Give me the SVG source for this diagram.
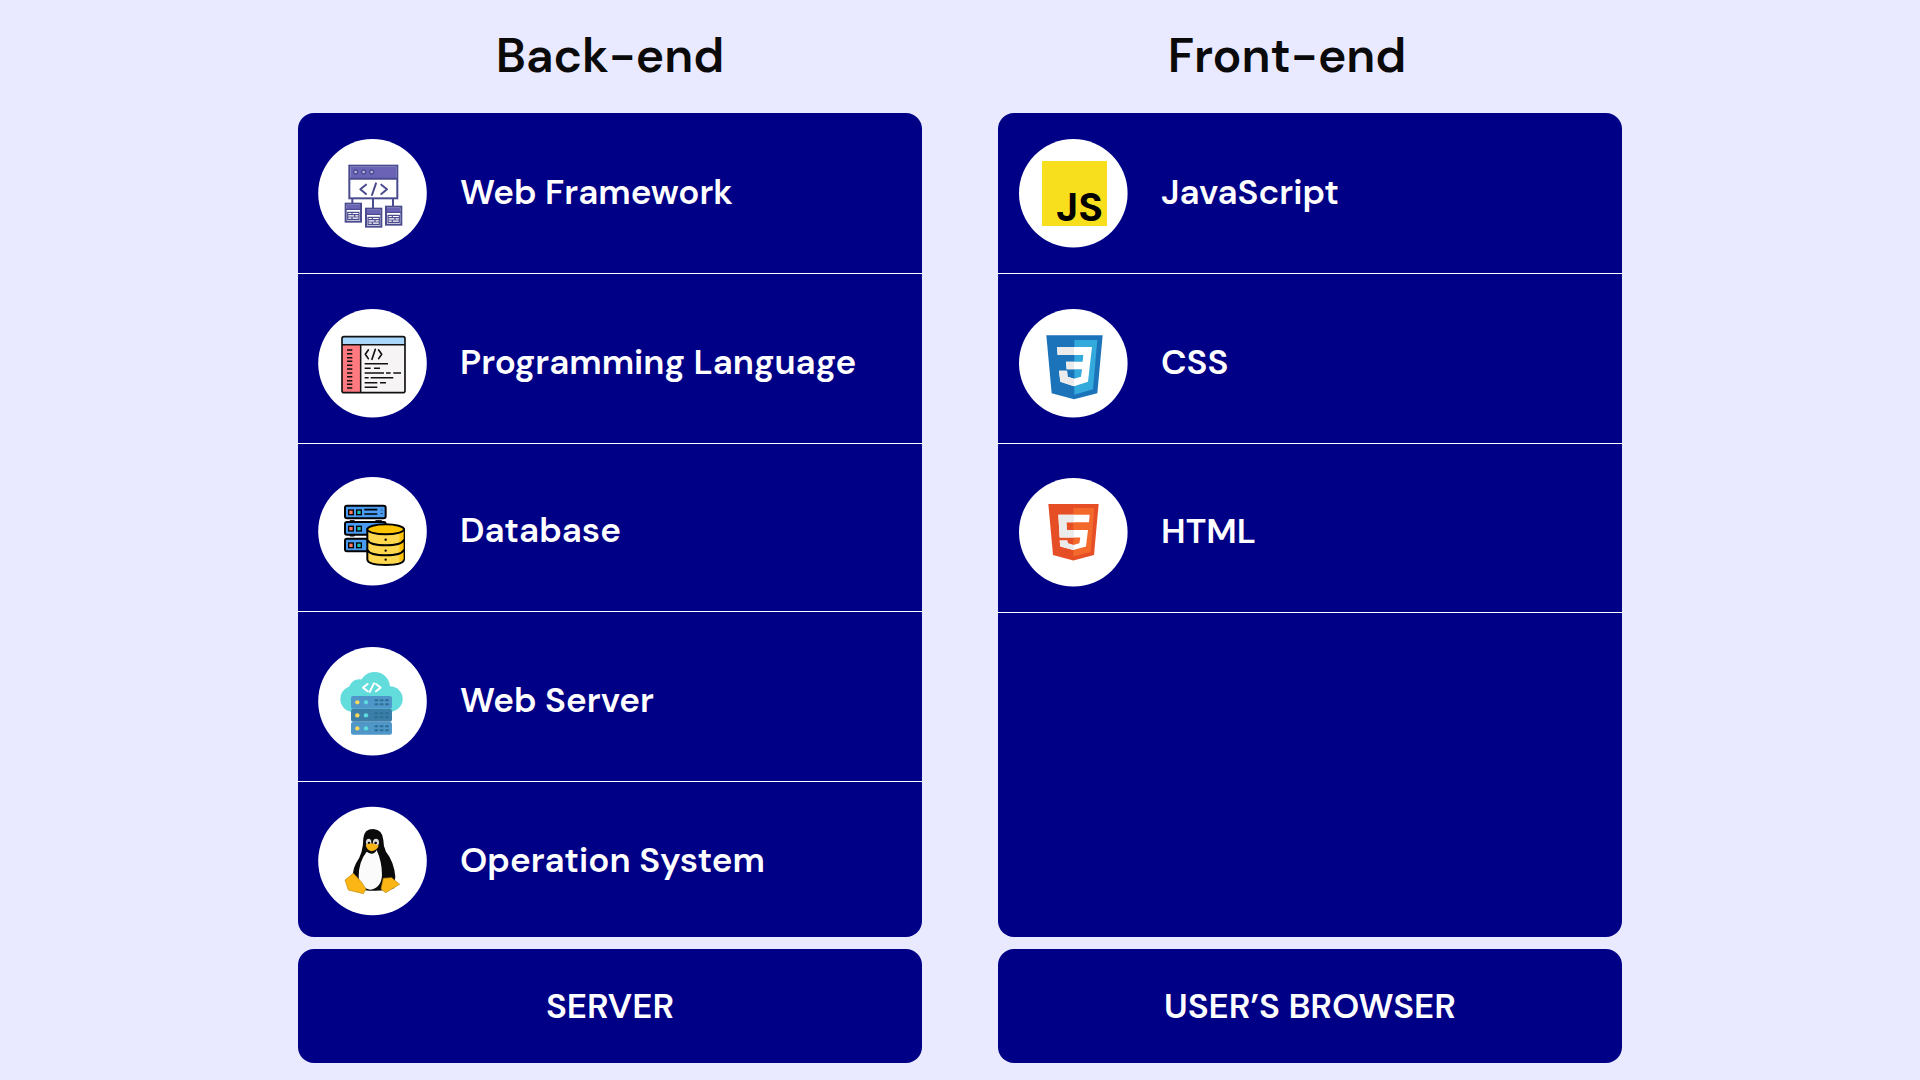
<svg xmlns="http://www.w3.org/2000/svg" width="1920" height="1080" viewBox="0 0 1920 1080">
<style>
.p{fill:#000087}.d{stroke:#fff;stroke-width:1.2}.c{fill:#fff}
text{font-family:"DM Sans","Inter","Noto Sans","Liberation Sans",sans-serif;font-weight:600;fill:#fff;font-size:35px}
.h{fill:#0a0a0a;font-size:48px;text-anchor:middle}.m{text-anchor:middle}
.z{fill:none;stroke-linecap:round;stroke-linejoin:round}
.wf{fill:#fff;stroke:#4b4b8f;stroke-width:6}.wb{fill:#6a63b6}
</style>
<defs>
<clipPath id="lh"><rect x="0" y="0" width="222" height="2000"/></clipPath>
<g id="tbl"><rect class="wf" x="3" y="3" width="46" height="54"/><rect class="wb" x="6" y="6" width="40" height="14"/><path d="M3 20H49M9 29H43V50H9ZM9 36H43M9 43H43M22 29V36M30 36V43M22 43V50" fill="none" stroke="#4b4b8f" stroke-width="3.5"/></g>
<g id="rack"><rect x="135" y="0" width="122" height="38" rx="6" fill="#4a9cf2" stroke="#000" stroke-width="6"/><rect x="146" y="13" width="14" height="14" fill="#ff7a5c" stroke="#000" stroke-width="4"/><rect x="170" y="13" width="14" height="14" fill="#1bc4b4" stroke="#000" stroke-width="4"/></g>
<g id="srv"><circle cx="172" cy="19" r="6.5" fill="#ffd95a"/><circle cx="198" cy="19" r="6.5" fill="#5fdcdc"/><path d="M226 13H232M242 13H248M258 13H264M226 25H232M242 25H248M258 25H264" stroke="#2e6f94" stroke-width="6" stroke-linecap="round"/></g>
</defs>
<rect width="1920" height="1080" fill="#e9e9ff"/>
<text class="h" x="610" y="72">Back-end</text>
<text class="h" x="1287" y="72">Front-end</text>
<rect class="p" x="298" y="113" width="624" height="824" rx="16"/>
<rect class="p" x="998" y="113" width="624" height="824" rx="16"/>
<rect class="p" x="298" y="949" width="624" height="114" rx="16"/>
<rect class="p" x="998" y="949" width="624" height="114" rx="16"/>
<g id="connectors"><path class="d" d="M298 273.5H922M298 443.5H922M298 611.5H922M298 781.5H922M998 273.5H1622M998 443.5H1622M998 612.5H1622"/></g>

<g id="web-framework"><circle class="c" cx="372.5" cy="193.3" r="54.3"/><text x="460" y="204">Web Framework</text>
<g transform="translate(300 110) scale(.3333)">
<path d="M157 265V280M219 265V296M279 265V290" stroke="#4b4b8f" stroke-width="6" fill="none"/>
<rect class="wf" x="148" y="167" width="144" height="98"/><rect class="wb" x="151" y="170" width="138" height="36"/><path d="M148 206H292" stroke="#4b4b8f" stroke-width="6"/>
<g fill="#b9b6e0" stroke="#4b4b8f" stroke-width="4"><circle cx="167" cy="186" r="6"/><circle cx="191" cy="186" r="6"/><circle cx="215" cy="186" r="6"/></g>
<path class="z" d="M198 224L181 238L198 252M244 224L261 238L244 252M228 220L216 255" stroke="#4b4b8f" stroke-width="6"/>
<use href="#tbl" x="134" y="278"/><use href="#tbl" x="195" y="293"/><use href="#tbl" x="255" y="287"/>
</g></g>

<g id="prog"><circle class="c" cx="372.5" cy="363.3" r="54.3"/><text x="460" y="374">Programming Language</text>
<g transform="translate(300 110) scale(.3333)">
<rect x="126" y="680" width="189" height="168" rx="6" fill="#f6f4f4"/>
<path d="M126 704V686Q126 680 132 680H309Q315 680 315 686V704Z" fill="#a9d6fb"/>
<rect x="126" y="704" width="56" height="144" fill="#ff7a80"/>
<rect x="126" y="680" width="189" height="168" rx="6" fill="none" stroke="#111" stroke-width="5"/>
<path d="M126 704H315M182 704V848M141 720H157M141 731H157M141 743H157M141 754H157M141 766H157M141 777H157M141 789H157M141 800H157M141 812H157M141 823H157M141 834H157" stroke="#111" stroke-width="4.5" fill="none"/>
<path class="z" d="M205 720L196 733L205 746M236 720L245 733L236 746M226 718L216 748" stroke="#111" stroke-width="5"/>
<path d="M194 761H264M194 775H212M222 775H240M194 789H252M258 789H272M280 789H303M194 803H206M212 803H280M194 818H232M240 818H258M194 832H232" stroke="#111" stroke-width="4.5" fill="none"/>
</g></g>

<g id="database"><circle class="c" cx="372.5" cy="531.3" r="54.3"/><text x="460" y="542">Database</text>
<g transform="translate(300 460) scale(.3333)">
<path d="M150 182H163V228H150ZM227 182H245V228H227Z" fill="#aaa" stroke="#000" stroke-width="3"/>
<use href="#rack" y="137"/><use href="#rack" y="186"/><use href="#rack" y="236"/>
<path d="M193 149H232M193 162H232M245 149V151M245 160V162" stroke="#000" stroke-width="5" fill="none"/>
<path d="M202 208V298Q202 315 257 315Q312 315 312 298V208Z" fill="#ffd84f" stroke="#000" stroke-width="6"/>
<path d="M298 222V305L311 298V208Z" fill="#ffc107"/>
<ellipse cx="257" cy="208" rx="55" ry="15" fill="#ffc400" stroke="#000" stroke-width="6"/>
<path class="z" d="M202 240Q210 256 257 256Q304 256 312 240M202 270Q210 286 257 286Q304 286 312 270" stroke="#000" stroke-width="6"/>
<circle cx="257" cy="239" r="3.5"/><circle cx="257" cy="272" r="3.5"/><circle cx="257" cy="299" r="3.5"/>
</g></g>

<g id="web-server"><circle class="c" cx="372.5" cy="701.3" r="54.3"/><text x="460" y="712">Web Server</text>
<g transform="translate(300 460) scale(.3333)">
<g fill="#63dcdc"><circle cx="160" cy="717" r="39"/><circle cx="178" cy="690" r="32"/><circle cx="224" cy="682" r="46"/><circle cx="270" cy="717" r="38"/><rect x="160" y="700" width="110" height="50"/></g>
<path class="z" d="M203 672L189 683L203 694M228 672L242 683L228 694M222 670L209 696" stroke="#fff" stroke-width="6"/>
<rect x="153" y="708" width="123" height="38" rx="6" fill="#4f96c9"/><rect x="153" y="747" width="123" height="38" rx="6" fill="#3b7fa8"/><rect x="153" y="786" width="123" height="38" rx="6" fill="#4f96c9"/>
<use href="#srv" y="708"/><use href="#srv" y="747"/><use href="#srv" y="786"/>
</g></g>

<g id="os"><circle class="c" cx="372.5" cy="861" r="54.3"/><text x="460" y="872">Operation System</text>
<g transform="translate(320 805) scale(.3333)">
<path d="M130 100Q132 72 160 72Q188 74 190 105Q190 125 198 140Q222 170 226 215L222 250Q180 262 130 255L102 240Q92 205 108 175Q130 145 130 100Z" fill="#0a0a0a"/>
<path d="M140 140Q160 155 170 135Q186 170 186 210Q184 250 150 254Q118 250 116 215Q116 170 140 140Z" fill="#fbfbfb"/>
<ellipse cx="146" cy="112" rx="8" ry="11" fill="#ddd"/><ellipse cx="168" cy="112" rx="9" ry="11" fill="#ddd"/><circle cx="147" cy="114" r="4"/><circle cx="167" cy="114" r="4"/>
<path d="M137 120Q155 108 176 122Q172 135 155 139Q140 136 137 120Z" fill="#f5b417"/>
<path d="M75 225L100 205L125 232L138 252L130 266L85 255Z" fill="#fbb514" stroke="#b88a10" stroke-width="2"/>
<path d="M190 220L215 218L239 238L197 263L183 252Z" fill="#fbb514" stroke="#b88a10" stroke-width="2"/>
</g></g>

<g id="js"><circle class="c" cx="1073.3" cy="193.3" r="54.3"/><text x="1161" y="204">JavaScript</text>
<rect x="1042" y="161" width="65" height="65" fill="#f7df1e"/>
<text x="1103" y="220.500" text-anchor="end" style="fill:#000;font-size:41px;font-weight:700">JS</text></g>

<g id="css"><circle class="c" cx="1073.3" cy="363.3" r="54.3"/><text x="1161" y="374">CSS</text>
<g transform="translate(1000 120) scale(.3333)">
<path d="M139 646H308L292 820L222 838L155 820Z" fill="#1b73ba"/><path d="M223 660H292L279 808L223 824Z" fill="#33a9dc"/>
<path d="M171 681H276L264 785L222 799L181 785L177 752H201L203 770L222 776L243 770L246 748H200L198 725H248L250 705H173Z" fill="#fff"/>
<path d="M171 681H276L264 785L222 799L181 785L177 752H201L203 770L222 776L243 770L246 748H200L198 725H248L250 705H173Z" fill="#ebebeb" clip-path="url(#lh)"/>
</g></g>

<g id="html"><circle class="c" cx="1073.3" cy="532.3" r="54.3"/><text x="1161" y="543">HTML</text>
<g transform="translate(1000 120) scale(.3333)">
<path d="M145 1152H296L282 1305L220 1322L159 1305Z" fill="#e64f25"/><path d="M220 1164H283L272 1296L220 1310Z" fill="#f3692c"/>
<path d="M175 1184H269L267 1207H199L201 1230H264L258 1280L220 1290L181 1280L179 1262H202L203 1270L220 1275L238 1270L241 1253H179Z" fill="#fff"/>
<path d="M175 1184H269L267 1207H199L201 1230H264L258 1280L220 1290L181 1280L179 1262H202L203 1270L220 1275L238 1270L241 1253H179Z" fill="#ebebeb" clip-path="url(#lh)"/>
</g></g>

<g id="server"><text class="m" x="610" y="1018">SERVER</text></g>
<g id="browser"><text class="m" x="1310" y="1018">USER’S BROWSER</text></g>
</svg>
